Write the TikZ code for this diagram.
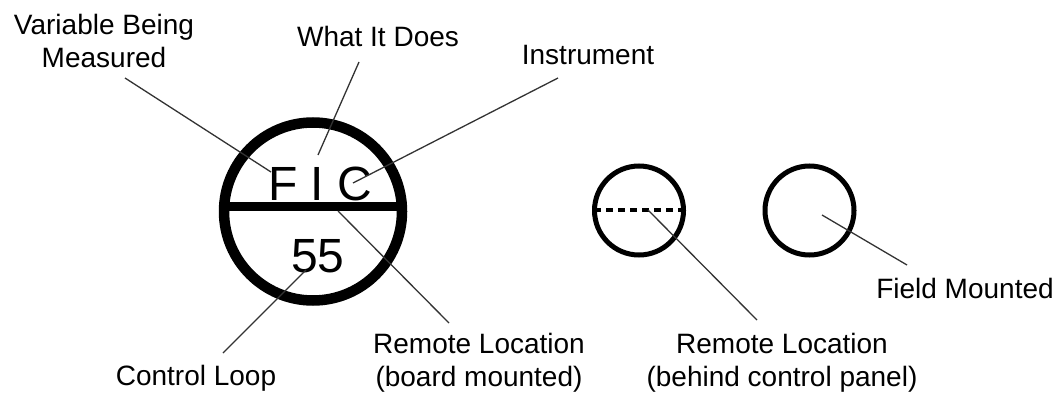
\documentclass[tikz,border=0pt]{standalone}
\usepackage{fontspec}
\setmainfont{Liberation Sans}
\begin{document}
\begin{tikzpicture}[x=1pt,y=-1pt,
  lbl/.style={font=\fontsize{28}{33}\selectfont, inner sep=0pt, align=center, anchor=base},
  big/.style={font=\fontsize{48}{50}\selectfont, inner sep=0pt, anchor=base},
  leader/.style={line width=1.3pt, black!80},
  ring/.style={draw, circle, inner sep=0pt}]
\useasboundingbox (0,0) rectangle (1062,396);
% instruments
\node[ring, line width=10.5pt, minimum size=178pt] (fic) at (313,211.5) {};
\draw[line width=9pt] (224,206) -- (402,206);
\node[big] (tag) at (320,200) {F I C};
\node[big] (loop) at (318,272) {55};
\node[ring, line width=5pt, minimum size=89pt] (rc) at (639,210.5) {};
\draw[line width=4pt, dash pattern=on 7pt off 5pt] (594,210) -- (684,210);
\node[ring, line width=5pt, minimum size=89pt] (fc) at (809.5,210.5) {};
% labels
\node[lbl] (vbm) at (104,67) {Variable Being\\Measured};
\node[lbl] (wid) at (378,47) {What It Does};
\node[lbl] (ins) at (588,65) {Instrument};
\node[lbl] (cl) at (196,385) {Control Loop};
\node[lbl] (rlb) at (479,386) {Remote Location\\(board mounted)};
\node[lbl] (rlp) at (782,386) {Remote Location\\(behind control panel)};
\node[lbl] (fm) at (965,298) {Field Mounted};
% leader end points
\coordinate (a1) at (125,78);  \coordinate (b1) at (271,172);
\coordinate (a2) at (359,62);  \coordinate (b2) at (318,155);
\coordinate (a3) at (558,78);  \coordinate (b3) at (353,183);
\coordinate (a4) at (223,353); \coordinate (b4) at (306,270);
\coordinate (a5) at (449,323); \coordinate (b5) at (338,211);
\coordinate (a6) at (757,320); \coordinate (b6) at (648,210);
\coordinate (a7) at (907,265); \coordinate (b7) at (822,215);
\draw[leader] (a1) -- (b1);
\draw[leader] (a2) -- (b2);
\draw[leader] (a3) -- (b3);
\draw[leader] (a4) -- (b4);
\draw[leader] (a5) -- (b5);
\draw[leader] (a6) -- (b6);
\draw[leader] (a7) -- (b7);
\end{tikzpicture}
\end{document}
